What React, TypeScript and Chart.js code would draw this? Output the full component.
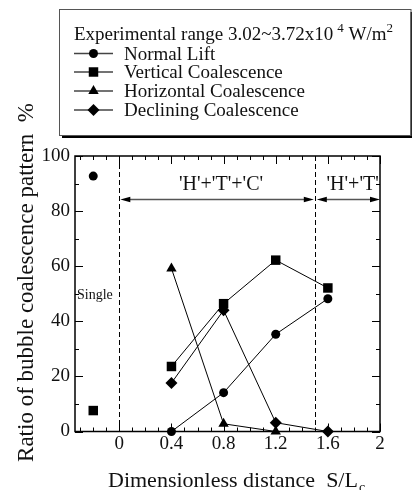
import React, { useEffect, useRef } from 'react';
import { Chart, registerables } from 'chart.js';

Chart.register(...registerables);

const FONT = "'Liberation Serif', 'Times New Roman', serif";

// ---- data ----
const xTickValues = [0, 0.4, 0.8, 1.2, 1.6, 2];
const yTickValues = [0, 20, 40, 60, 80, 100];
const seriesNames = ['Normal Lift', 'Vertical Coalescence', 'Horizontal Coalescence', 'Declining Coalescence'];
const distances = [0.4, 0.8, 1.2, 1.6];
const normalLift = [0, 14.1, 35.3, 48.2];
const verticalCoal = [23.6, 46.4, 62.2, 52.1];
const horizontalCoal = [59.2, 2.8, 0, null];
const decliningCoal = [17.6, 44, 3.2, 0];
const singleX = -0.2;
const singleNormalLift = 92.7;
const singleVertical = 7.6;
const regionBounds = [0, 1.5, 2];
const regionLabels = ["'H'+'T'+'C'", "'H'+'T'"];
const regionLabelX = [0.78, 1.79];
const arrowLevel = 84.4;
const labelLevel = 87.7;
const singleLabel = 'Single';
const singleLabelLevel = 49.5;
const legendTitle = ['Experimental range 3.02~3.72x10', '4', ' W/m', '2'];
const xTitle = ['Dimensionless distance  S/L', 'c'];
const yTitle = 'Ratio of bubble coalescence pattern  %';

const markerStyles = ['circle', 'rect', 'triangle', 'rectRot'];
const markerRadii = [4.5, 6.7, 6, 6];

function toPoints(values: (number | null)[]) {
  return distances
    .map((x, i) => ({ x, y: values[i] }))
    .filter((p) => p.y !== null) as { x: number; y: number }[];
}

function drawMarker(ctx: CanvasRenderingContext2D, style: string, x: number, y: number, r: number) {
  ctx.beginPath();
  if (style === 'circle') {
    ctx.arc(x, y, r, 0, Math.PI * 2);
  } else if (style === 'rect') {
    const s = Math.SQRT1_2 * r;
    ctx.rect(x - s, y - s, 2 * s, 2 * s);
  } else if (style === 'triangle') {
    ctx.moveTo(x, y - r);
    ctx.lineTo(x + 0.866 * r, y + 0.5 * r);
    ctx.lineTo(x - 0.866 * r, y + 0.5 * r);
    ctx.closePath();
  } else {
    ctx.moveTo(x - r, y);
    ctx.lineTo(x, y - r);
    ctx.lineTo(x + r, y);
    ctx.lineTo(x, y + r);
    ctx.closePath();
  }
  ctx.fill();
}

const decor = {
  id: 'decor',
  beforeDatasetsDraw(chart: any) {
    const { ctx, chartArea: a, scales } = chart;
    const xs = scales.x;
    const ys = scales.y;
    ctx.save();
    // dashed region bounds
    ctx.strokeStyle = '#000';
    ctx.lineWidth = 1;
    ctx.setLineDash([5, 3]);
    for (const b of regionBounds.slice(0, 2)) {
      const px = Math.round(xs.getPixelForValue(b)) + 0.5;
      ctx.beginPath();
      ctx.moveTo(px, a.top);
      ctx.lineTo(px, a.bottom);
      ctx.stroke();
    }
    ctx.setLineDash([]);
    // arrows
    const ay = Math.round(ys.getPixelForValue(arrowLevel)) + 0.5;
    for (let i = 0; i < regionBounds.length - 1; i++) {
      const x1 = xs.getPixelForValue(regionBounds[i]) + (i === 0 ? 1 : 2);
      const x2 = xs.getPixelForValue(regionBounds[i + 1]) - (i === regionBounds.length - 2 ? 0 : 1);
      ctx.strokeStyle = '#555';
      ctx.lineWidth = 1.6;
      ctx.beginPath();
      ctx.moveTo(x1 + 6, ay);
      ctx.lineTo(x2 - 6, ay);
      ctx.stroke();
      ctx.fillStyle = '#000';
      ctx.beginPath();
      ctx.moveTo(x1, ay);
      ctx.lineTo(x1 + 10, ay - 2.8);
      ctx.lineTo(x1 + 10, ay + 2.8);
      ctx.closePath();
      ctx.fill();
      ctx.beginPath();
      ctx.moveTo(x2, ay);
      ctx.lineTo(x2 - 10, ay - 2.8);
      ctx.lineTo(x2 - 10, ay + 2.8);
      ctx.closePath();
      ctx.fill();
    }
    // region labels
    ctx.fillStyle = '#111';
    ctx.font = `20px ${FONT}`;
    ctx.textAlign = 'center';
    ctx.textBaseline = 'alphabetic';
    regionLabels.forEach((t, i) => {
      ctx.fillText(t, xs.getPixelForValue(regionLabelX[i]), ys.getPixelForValue(labelLevel));
    });
    // frame
    ctx.strokeStyle = '#000';
    ctx.lineWidth = 1.5;
    ctx.strokeRect(a.left, a.top, a.right - a.left, a.bottom - a.top);
    // ticks (inward, mirrored)
    ctx.lineWidth = 1;
    ctx.beginPath();
    for (let k = -3; k <= 20; k++) {
      const px = Math.round(xs.getPixelForValue(k / 10)) + 0.5;
      const len = k % 4 === 0 ? 8 : 4;
      ctx.moveTo(px, a.bottom);
      ctx.lineTo(px, a.bottom - len);
      ctx.moveTo(px, a.top);
      ctx.lineTo(px, a.top + len);
    }
    for (let k = 0; k <= 10; k++) {
      const py = Math.round(ys.getPixelForValue(k * 10)) + 0.5;
      const len = k % 2 === 0 ? 8 : 4;
      ctx.moveTo(a.left, py);
      ctx.lineTo(a.left + len, py);
      ctx.moveTo(a.right, py);
      ctx.lineTo(a.right - len, py);
    }
    ctx.stroke();
    ctx.restore();
  },
  afterDraw(chart: any) {
    const { ctx, chartArea: a, scales } = chart;
    const ys = scales.y;
    ctx.save();
    // "Single" label
    ctx.fillStyle = '#111';
    ctx.font = `14px ${FONT}`;
    ctx.textAlign = 'left';
    ctx.textBaseline = 'middle';
    ctx.fillText(singleLabel, a.left + 2, ys.getPixelForValue(singleLabelLevel));

    // y title
    ctx.font = `23px ${FONT}`;
    ctx.textAlign = 'center';
    ctx.textBaseline = 'middle';
    ctx.translate(27, 282.5);
    ctx.rotate(-Math.PI / 2);
    ctx.fillText(yTitle, 0, 0);
    ctx.setTransform(1, 0, 0, 1, 0, 0);

    // x title
    ctx.textAlign = 'left';
    ctx.textBaseline = 'alphabetic';
    ctx.font = `22px ${FONT}`;
    ctx.fillText(xTitle[0], 108, 487);
    const w0 = ctx.measureText(xTitle[0]).width;
    ctx.font = `14px ${FONT}`;
    ctx.fillText(xTitle[1], 108 + w0 + 1, 492);

    // legend box with shadow
    const bx = 59, by = 9, bw = 351.5, bh = 126;
    ctx.fillStyle = '#000';
    ctx.fillRect(bx + 3, by + 3, bw, bh);
    ctx.fillStyle = '#fff';
    ctx.fillRect(bx, by, bw, bh);
    ctx.strokeStyle = '#555';
    ctx.lineWidth = 1;
    ctx.strokeRect(bx + 0.5, by + 0.5, bw, bh);

    // legend title
    ctx.fillStyle = '#111';
    let tx = 74;
    const tb = 39.5;
    ctx.font = `19px ${FONT}`;
    ctx.fillText(legendTitle[0], tx, tb);
    tx += ctx.measureText(legendTitle[0]).width + 4;
    ctx.font = `13px ${FONT}`;
    ctx.fillText(legendTitle[1], tx, tb - 8);
    tx += ctx.measureText(legendTitle[1]).width;
    ctx.font = `19px ${FONT}`;
    ctx.fillText(legendTitle[2], tx, tb);
    tx += ctx.measureText(legendTitle[2]).width;
    ctx.font = `13px ${FONT}`;
    ctx.fillText(legendTitle[3], tx, tb - 8);

    // legend entries
    const rowY = [53.5, 72, 91, 110];
    seriesNames.forEach((name, i) => {
      const ry = rowY[i];
      ctx.strokeStyle = '#444';
      ctx.lineWidth = 1.5;
      ctx.beginPath();
      ctx.moveTo(74, ry);
      ctx.lineTo(113, ry);
      ctx.stroke();
      ctx.fillStyle = '#000';
      drawMarker(ctx, markerStyles[i], 93.5, ry, markerRadii[i]);
      ctx.fillStyle = '#111';
      ctx.font = `19px ${FONT}`;
      ctx.textBaseline = 'alphabetic';
      ctx.fillText(name, 124, ry + 6);
    });
    ctx.restore();
  },
};

export default function App() {
  const ref = useRef<HTMLCanvasElement | null>(null);
  useEffect(() => {
    document.body.style.margin = '0';
    if (!ref.current) return;
    const base = {
      borderColor: '#000',
      backgroundColor: '#000',
      pointBackgroundColor: '#000',
      pointBorderColor: '#000',
      pointBorderWidth: 0,
      borderWidth: 1,
      showLine: true,
      clip: false as any,
    };
    const lineSeries = [normalLift, verticalCoal, horizontalCoal, decliningCoal];
    const datasets: any[] = lineSeries.map((vals, i) => ({
      ...base,
      label: seriesNames[i],
      data: toPoints(vals),
      pointStyle: markerStyles[i],
      pointRadius: markerRadii[i],
    }));
    datasets.push({
      ...base,
      label: 'Single Normal Lift',
      showLine: false,
      data: [{ x: singleX, y: singleNormalLift }],
      pointStyle: 'circle',
      pointRadius: markerRadii[0],
    });
    datasets.push({
      ...base,
      label: 'Single Vertical',
      showLine: false,
      data: [{ x: singleX, y: singleVertical }],
      pointStyle: 'rect',
      pointRadius: markerRadii[1],
    });

    const chart = new Chart(ref.current, {
      type: 'scatter',
      data: { datasets },
      plugins: [decor],
      options: {
        responsive: false,
        animation: false,
        layout: { padding: { top: 156, right: 32, left: 0, bottom: 0 } },
        plugins: { legend: { display: false }, tooltip: { enabled: false } },
        scales: {
          x: {
            type: 'linear',
            min: -0.34,
            max: 2,
            afterBuildTicks: (s: any) => {
              s.ticks = xTickValues.map((v) => ({ value: v }));
            },
            afterFit: (s: any) => {
              s.height = 58.5;
            },
            grid: { display: false, drawTicks: false },
            border: { display: false },
            ticks: {
              autoSkip: false,
              maxRotation: 0,
              padding: 1,
              color: '#111',
              font: { family: FONT, size: 19 },
              callback: (v: any) => String(Math.round(Number(v) * 10) / 10),
            },
          },
          y: {
            type: 'linear',
            min: 0,
            max: 100,
            afterBuildTicks: (s: any) => {
              s.ticks = yTickValues.map((v) => ({ value: v }));
            },
            afterFit: (s: any) => {
              s.width = 75;
            },
            grid: { display: false, drawTicks: false },
            border: { display: false },
            ticks: {
              autoSkip: false,
              padding: 5,
              color: '#111',
              font: { family: FONT, size: 19 },
            },
          },
        },
      },
    });
    return () => chart.destroy();
  }, []);
  return (
    <div style={{ position: 'absolute', left: 0, top: 0, width: 412, height: 490 }}>
      <canvas ref={ref} width={412} height={490} style={{ width: 412, height: 490 }} />
    </div>
  );
}
